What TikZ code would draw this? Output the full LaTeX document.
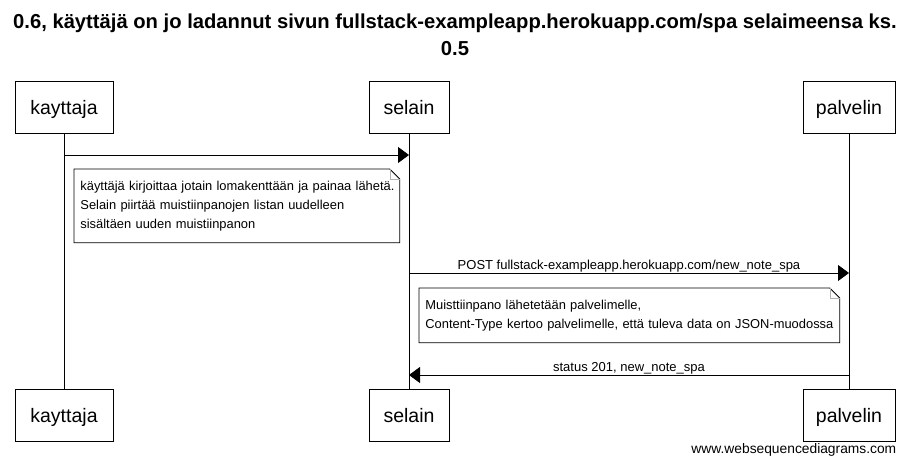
\documentclass[tikz,border=0pt]{standalone}
\usepackage{fontspec}
\setmainfont{Liberation Sans}
\usetikzlibrary{arrows.meta,positioning}

\begin{document}
\begin{tikzpicture}[x=1pt, y=-1pt, line width=0.8pt,
    >={Triangle[length=11pt,width=16pt]},
    actor/.style={draw, minimum height=52pt, inner sep=0pt, text height=15pt, text depth=0pt,
        font=\fontsize{19.5}{22}\selectfont},
    notebox/.style={anchor=north west, inner xsep=6pt, inner ysep=0pt, align=left,
        font=\fontsize{12.9}{19}\selectfont},
    msg/.style={anchor=base, yshift=4pt, inner sep=0pt, font=\fontsize{13}{15}\selectfont}]

    \useasboundingbox (0,0) rectangle (911,466);

    % --- title ---
    \node[align=center, font=\bfseries\fontsize{20.2}{27}\selectfont] (title) at (455,35)
        {0.6, käyttäjä on jo ladannut sivun fullstack-exampleapp.herokuapp.com/spa selaimeensa ks.\\0.5};

    % --- participants, top and bottom ---
    \node[actor, minimum width=98pt] (kayttaja) at (64,107) {kayttaja};
    \node[actor, minimum width=80pt] (selain) at (409,107) {selain};
    \node[actor, minimum width=92pt] (palvelin) at (849,107) {palvelin};

    \node[actor, minimum width=98pt] (kayttajaB) at (64,415) {kayttaja};
    \node[actor, minimum width=80pt] (selainB) at (409,415) {selain};
    \node[actor, minimum width=92pt] (palvelinB) at (849,415) {palvelin};

    % lifelines
    \draw (kayttaja.south) -- (kayttajaB.north);
    \draw (selain.south) -- (selainB.north);
    \draw (palvelin.south) -- (palvelinB.north);

    % --- kayttaja -> selain ---
    \coordinate (k1) at (kayttaja.south |- 0,155);
    \coordinate (s1) at (selain.south |- 0,155);
    \draw[->] (k1) -- (s1);

    \node[notebox, text width=313pt, minimum height=73pt] (note1) at (74,169)
        {\mbox{käyttäjä kirjoittaa jotain lomakenttään ja painaa lähetä.}\\
         \mbox{Selain piirtää muistiinpanojen listan uudelleen}\\
         \mbox{sisältäen uuden muistiinpanon}};
    \draw (note1.north west) -- ([xshift=-10pt]note1.north east) -- ([yshift=-10pt]note1.north east)
        -- (note1.south east) -- (note1.south west) -- cycle;
    \draw[gray!60, line width=0.6pt] ([xshift=-10pt]note1.north east) |- ([yshift=-10pt]note1.north east);

    % --- selain -> palvelin ---
    \coordinate (s2) at (selain.south |- 0,273);
    \coordinate (p2) at (palvelin.south |- 0,273);
    \draw[->] (s2) -- node[msg] (post) {POST fullstack-exampleapp.herokuapp.com/new\_note\_spa} (p2);

    \node[notebox, text width=408pt, minimum height=54pt] (note2) at (419,288)
        {\mbox{Muisttiinpano lähetetään palvelimelle,}\\
         \mbox{Content-Type kertoo palvelimelle, että tuleva data on JSON-muodossa}};
    \draw (note2.north west) -- ([xshift=-10pt]note2.north east) -- ([yshift=-10pt]note2.north east)
        -- (note2.south east) -- (note2.south west) -- cycle;
    \draw[gray!60, line width=0.6pt] ([xshift=-10pt]note2.north east) |- ([yshift=-10pt]note2.north east);

    % --- palvelin -> selain ---
    \coordinate (p3) at (palvelin.south |- 0,375);
    \coordinate (s3) at (selain.south |- 0,375);
    \draw[->] (p3) -- node[msg] (status) {status 201, new\_note\_spa} (s3);

    \node[anchor=east, font=\fontsize{13.8}{16}\selectfont] (wsd) at (900,450) {www.websequencediagrams.com};

\end{tikzpicture}
\end{document}
